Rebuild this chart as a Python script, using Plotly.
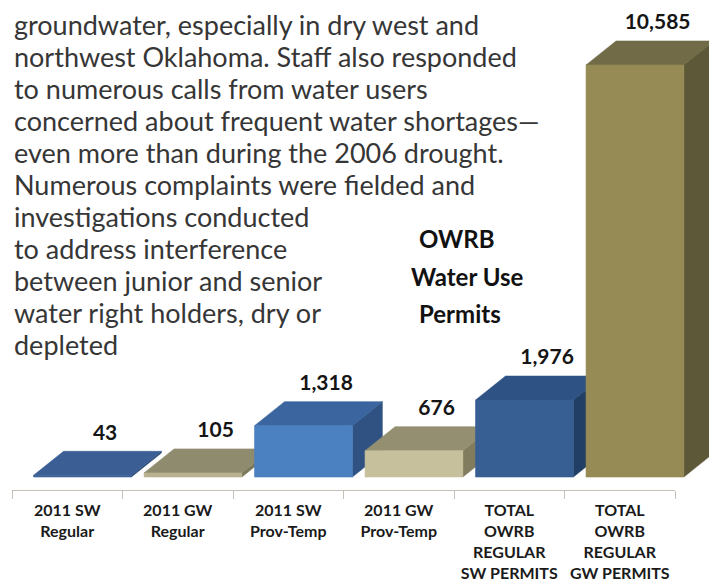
import plotly.graph_objects as go

# ---------------- data ----------------
CATEGORIES = [
    "2011 SW<br>Regular",
    "2011 GW<br>Regular",
    "2011 SW<br>Prov-Temp",
    "2011 GW<br>Prov-Temp",
    "TOTAL<br>OWRB<br>REGULAR<br>SW PERMITS",
    "TOTAL<br>OWRB<br>REGULAR<br>GW PERMITS",
]
VALUES = [43, 105, 1318, 676, 1976, 10585]
VALUE_LABELS = ["43", "105", "1,318", "676", "1,976", "10,585"]

FRONT_COLORS = ["#3d6399", "#b8b291", "#4b80c1", "#c6c09c", "#375f94", "#968b55"]
TOP_COLORS = ["#3b5f95", "#8f8b6e", "#3a659e", "#948f70", "#2e5284", "#716b47"]
SIDE_COLORS = ["#2c4a75", "#7c785c", "#2f5283", "#817c5e", "#213e64", "#5d5838"]

TITLE_LINES = ["OWRB", "Water Use", "Permits"]
BODY_LINES = [
    "groundwater, especially in dry west and",
    "northwest Oklahoma. Staff also responded",
    "to numerous calls from water users",
    "concerned about frequent water shortages\u2014",
    "even more than during the 2006 drought.",
    "Numerous complaints were fielded and",
    "investigations conducted",
    "to address interference",
    "between junior and senior",
    "water right holders, dry or",
    "depleted",
]

# ---------------- layout geometry (pixels) ----------------
W, H = 709, 586
AX_LEFT, AX_RIGHT = 12, 675          # category axis extent
AX_Y = 490                           # category axis line
BASE_Y = 477                         # bar floor
TOP_Y_MAX = 65                       # front top of tallest bar
NCAT = len(CATEGORIES)
CAT_PX = (AX_RIGHT - AX_LEFT) / NCAT
K = (BASE_Y - TOP_Y_MAX) / max(VALUES)   # px per unit

XMIN = -(AX_LEFT + CAT_PX / 2) / CAT_PX
XMAX = XMIN + W / CAT_PX
YMIN = -(H - BASE_Y) / K
YMAX = YMIN + H / K

FRONT_L, FRONT_R = -0.305, 0.58      # bar front face, category units
DX = 30 / CAT_PX                     # depth offset
DY = 24 / K

BODY_LINE_PX = 32                    # body text line pitch
BODY_GLYPH_PX = 27                   # body glyph size

fig = go.Figure()


def poly(xs, ys, color):
    fig.add_trace(go.Scatter(
        x=xs + [xs[0]], y=ys + [ys[0]], mode="lines", fill="toself",
        fillcolor=color, line=dict(color=color, width=0.6),
        hoverinfo="skip", showlegend=False, xaxis="x", yaxis="y"))


for i, v in enumerate(VALUES):
    x0, x1 = i + FRONT_L, i + FRONT_R
    # side face
    poly([x1, x1, x1 + DX, x1 + DX], [0, v, v + DY, DY], SIDE_COLORS[i])
    # top face
    poly([x0, x1, x1 + DX, x0 + DX], [v, v, v + DY, v + DY], TOP_COLORS[i])
    # front face
    poly([x0, x1, x1, x0], [0, 0, v, v], FRONT_COLORS[i])

# value labels
fig.add_trace(go.Scatter(
    x=[i + (FRONT_L + FRONT_R) / 2 + 0.205 for i in range(len(VALUES))],
    y=[v + DY + 17 / K for v in VALUES],
    mode="text", text=VALUE_LABELS,
    textfont=dict(family="Lato", size=21, color="#151515", weight="bold"),
    textposition="middle center", hoverinfo="skip", showlegend=False,
    cliponaxis=False, xaxis="x", yaxis="y"))

# category axis (invisible trace to carry it)
fig.add_trace(go.Scatter(
    x=CATEGORIES, y=[0] * NCAT, mode="markers",
    marker=dict(opacity=0), hoverinfo="skip", showlegend=False,
    xaxis="x2", yaxis="y2"))

body_text = "<br>".join(
    f'<span style="font-size:{BODY_GLYPH_PX}px">{ln}</span>' for ln in BODY_LINES)

annotations = [dict(
    text=body_text, xref="paper", yref="paper", x=13 / W, xanchor="left",
    align="left", y=1 - 6.5 / H, yanchor="top", showarrow=False, borderpad=0,
    font=dict(family="Lato", size=BODY_LINE_PX / 1.3, color="#363636"))]

for txt, cx, cy in zip(TITLE_LINES, [457, 467, 460], [238, 276, 313]):
    annotations.append(dict(
        text=txt, xref="paper", yref="paper", x=cx / W, xanchor="center",
        y=1 - cy / H, yanchor="middle", showarrow=False,
        font=dict(family="Lato", size=24, color="#111111", weight="bold")))

fig.update_layout(
    template="none",
    width=W, height=H,
    margin=dict(l=0, r=0, t=0, b=0, autoexpand=False),
    paper_bgcolor="white", plot_bgcolor="white",
    showlegend=False,
    xaxis=dict(domain=[0, 1], range=[XMIN, XMAX], visible=False,
               fixedrange=True, automargin=False),
    yaxis=dict(domain=[0, 1], range=[YMIN, YMAX], visible=False,
               fixedrange=True, automargin=False),
    xaxis2=dict(
        domain=[AX_LEFT / W, AX_RIGHT / W], anchor="y2", type="category",
        categoryorder="array", categoryarray=CATEGORIES,
        range=[-0.5, NCAT - 0.5], tickangle=0, automargin=False,
        tickson="boundaries", ticks="outside", ticklen=8, tickwidth=1,
        tickcolor="#c6bfb5", showline=True, linecolor="#c6bfb5", linewidth=1,
        showgrid=False, zeroline=False, ticklabelstandoff=6,
        tickfont=dict(family="Lato", size=16, color="#1a1a1a", weight="bold"),
        fixedrange=True),
    yaxis2=dict(domain=[(H - AX_Y) / H, (H - AX_Y + 10) / H], anchor="x2",
                visible=False, fixedrange=True, automargin=False),
    annotations=annotations,
)

fig.write_html("out.html")
